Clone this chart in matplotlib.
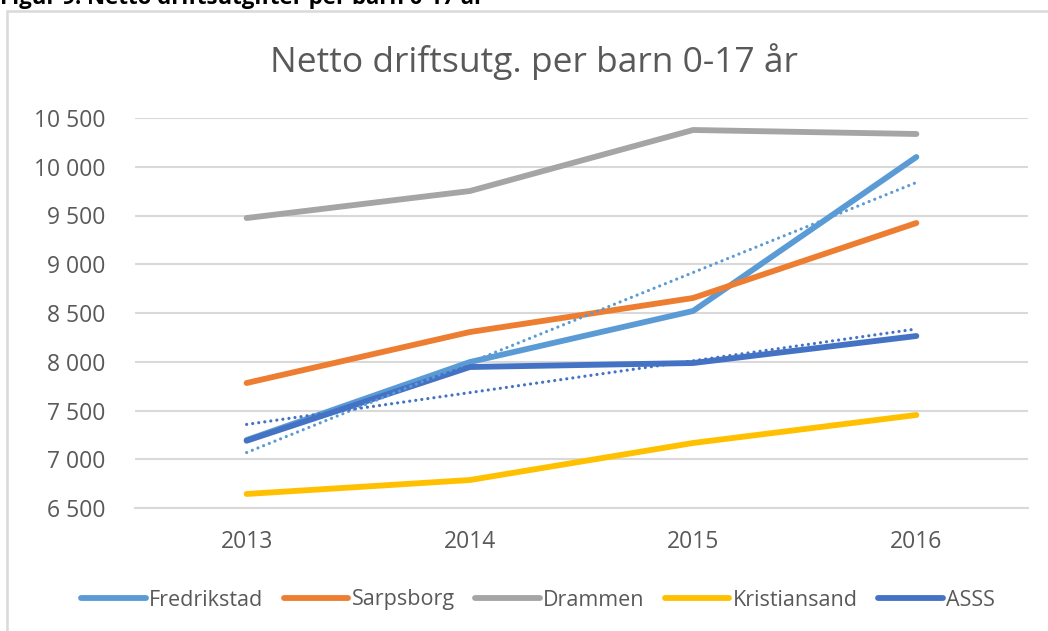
import numpy as np
import matplotlib

matplotlib.use("Agg")
import matplotlib.pyplot as plt
from matplotlib.patches import Rectangle

# Data (NOK per child aged 0-17)
years = ["2013", "2014", "2015", "2016"]
fredrikstad = [7197, 7997, 8521, 10100]
sarpsborg = [7782, 8305, 8654, 9423]
drammen = [9474, 9751, 10377, 10336]
kristiansand = [6644, 6787, 7167, 7454]
asss = [7190, 7946, 7987, 8264]

series = [
    ("Fredrikstad", fredrikstad, "#5B9BD5"),
    ("Sarpsborg", sarpsborg, "#ED7D31"),
    ("Drammen", drammen, "#A5A5A5"),
    ("Kristiansand", kristiansand, "#FFC000"),
    ("ASSS", asss, "#4472C4"),
]

plt.rcParams["font.family"] = ["Open Sans", "DejaVu Sans"]
text_grey = "#595959"
grid_grey = "#D9D9D9"

W, H = 1048, 631
fig = plt.figure(figsize=(W / 100, H / 100), dpi=100)

# outer chart frame (extends past the right and bottom edge)
fig.patches.append(
    Rectangle((7 / W, -0.1), 1.2, 1 - 11 / H + 0.1, transform=fig.transFigure,
              fill=False, edgecolor=grid_grey, linewidth=1.8)
)

# caption above the chart, cut by the top edge as in the original
fig.text(0.0, 1 - 4 / H, "Figur 9: Netto driftsutgifter per barn 0-17 år",
         fontsize=16, fontweight="bold", color="black", va="baseline", ha="left")

ax = fig.add_axes([135 / W, 1 - 508 / H, (1028 - 135) / W, (508 - 118) / H])
x = np.arange(len(years))

for name, vals, col in series:
    ax.plot(x, vals, color=col, linewidth=4.2, solid_capstyle="round",
            solid_joinstyle="round", label=name, zorder=3)

# linear trendlines (dotted) for Fredrikstad and ASSS
for vals, col in [(fredrikstad, "#5B9BD5"), (asss, "#4472C4")]:
    k, m = np.polyfit(x, vals, 1)
    ax.plot(x, k * x + m, color=col, linewidth=2.3, linestyle=(0, (0.01, 1.9)),
            dash_capstyle="round", zorder=4)

ax.set_xlim(-0.5, len(years) - 0.5)
ax.set_ylim(6500, 10500)
ax.set_yticks(np.arange(6500, 10501, 500))
ax.set_yticklabels([f"{v:,.0f}".replace(",", " ") for v in np.arange(6500, 10501, 500)])
ax.set_xticks(x)
ax.set_xticklabels(years)
ax.grid(axis="y", color=grid_grey, linewidth=1.5, zorder=0)
ax.set_axisbelow(True)
for s in ["top", "right", "left"]:
    ax.spines[s].set_visible(False)
ax.spines["bottom"].set_color(grid_grey)
ax.spines["bottom"].set_linewidth(1.5)
ax.tick_params(axis="both", length=0, labelsize=16.5, colors=text_grey)
ax.tick_params(axis="y", pad=21)
ax.tick_params(axis="x", pad=16)

fig.text(534 / W, 1 - 62 / H, "Netto driftsutg. per barn 0-17 år", fontsize=25.5,
         color=text_grey, ha="center", va="center")

fig.legend(loc="center", bbox_to_anchor=(538 / W, 1 - 600 / H), ncol=5,
           frameon=False, fontsize=15.5, labelcolor=text_grey, handlelength=3.0,
           handletextpad=0.15, columnspacing=0.95)

fig.savefig("out.png", dpi=100)
